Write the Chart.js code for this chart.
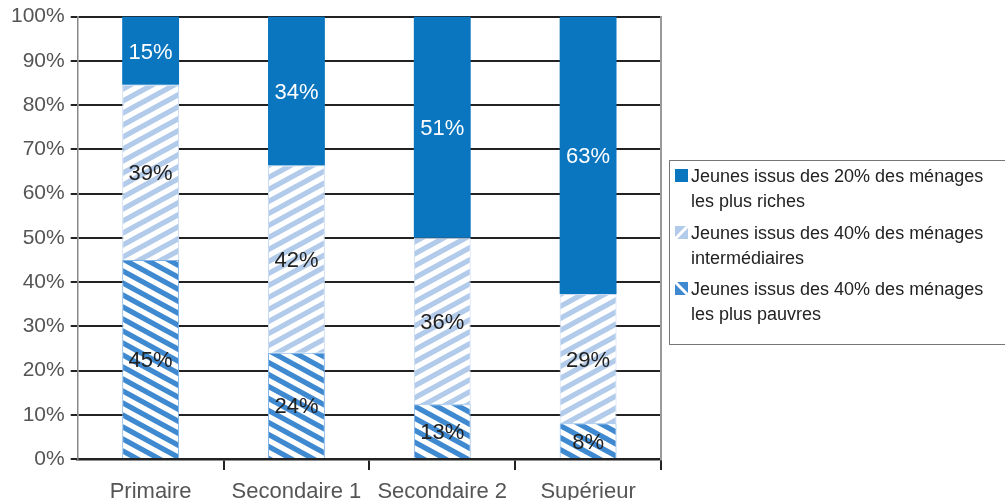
<!DOCTYPE html>
<html>
<head>
<meta charset="utf-8">
<script src="https://cdn.jsdelivr.net/npm/chart.js@4"></script>
<style>
    html, body { margin: 0; padding: 0; background: #fff; }
    #wrap { position: relative; width: 1005px; height: 500px; }
    #legend {
        position: absolute; left: 669px; top: 160px; width: 345px; height: 185px;
        border: 1.5px solid #777; box-sizing: border-box; padding: 3px 0 0 5px;
        font-family: "Liberation Sans", Arial, sans-serif; font-size: 18px; line-height: 25px; color: #222;
    }
    .item { display: flex; align-items: flex-start; margin-bottom: 6.5px; }
    .sw { width: 13px; height: 13px; margin: 5px 3px 0 0; flex: none; }
    .txt { white-space: nowrap; }
</style>
</head>
<body>
<div id="wrap">
    <canvas id="chart" width="1005" height="500"></canvas>
    <div id="legend"></div>
</div>
<script>
// ==========================================================================================================
// -- Data --
// ==========================================================================================================

const categories = ["Primaire", "Secondaire 1", "Secondaire 2", "Supérieur"];

// bar heights (in %)
const poorValues = [45, 24, 12.4, 8.1];
const midValues = [39.6, 42.3, 37.6, 29.2];
const richValues = [15.4, 33.7, 50, 62.7];

// percentages printed inside the bars
const poorLabels = [45, 24, 13, 8];
const midLabels = [39, 42, 36, 29];
const richLabels = [15, 34, 51, 63];

const seriesNames = [
    ["Jeunes issus des 40% des ménages", "les plus pauvres"],
    ["Jeunes issus des 40% des ménages", "intermédiaires"],
    ["Jeunes issus des 20% des ménages", "les plus riches"],
];

const yTicks = [0, 10, 20, 30, 40, 50, 60, 70, 80, 90, 100];

const FONT = '"Liberation Sans", Arial, sans-serif';
const solidBlue = "#0a76c0";
const lightStripe = "#b3cbea";
const darkStripe = "#3f89d0";

// ==========================================================================================================
// -- Helpers --
// ==========================================================================================================

// Hatch pattern -------------------------------------------------------------------------------------
function makeHatch(color, dir) {
    const W = 22, H = 12;
    const c = document.createElement("canvas");
    c.width = W; c.height = H;
    const g = c.getContext("2d");
    g.fillStyle = "#fff";
    g.fillRect(0, 0, W, H);
    g.strokeStyle = color;
    g.lineWidth = 5.2;
    for (let k = -1; k <= 1; k++) {
        g.beginPath();
        if (dir === "/") {
            g.moveTo(-W, 2 * H + k * H);
            g.lineTo(2 * W, -H + k * H);
        } else {
            g.moveTo(-W, -H + k * H);
            g.lineTo(2 * W, 2 * H + k * H);
        }
        g.stroke();
    }
    return g.createPattern(c, "repeat");
}

// Legend swatch: coloured square crossed by one white stripe ------------------------------------------
function drawSwatch(cv, color, dir) {
    const g = cv.getContext("2d");
    g.fillStyle = color;
    g.fillRect(0, 0, 13, 13);
    if (!dir) return;
    g.strokeStyle = "#fff";
    g.lineWidth = 3;
    g.beginPath();
    if (dir === "/") { g.moveTo(-2, 15); g.lineTo(15, -2); }
    else { g.moveTo(-2, -2); g.lineTo(15, 15); }
    g.stroke();
}

const darkHatch = makeHatch(darkStripe, "\\");
const lightHatch = makeHatch(lightStripe, "/");

// Labels inside bars --------------------------------------------------------------------------------
const labelSets = [poorLabels, midLabels, richLabels];
const barLabels = {
    id: "barLabels",
    afterDatasetsDraw(chart) {
        const ctx = chart.ctx;
        ctx.save();
        ctx.font = `22px ${FONT}`;
        ctx.textAlign = "center";
        ctx.textBaseline = "middle";
        chart.data.datasets.forEach((ds, i) => {
            const meta = chart.getDatasetMeta(i);
            meta.data.forEach((bar, j) => {
                ctx.fillStyle = i === 2 ? "#fff" : "#222";
                ctx.fillText(`${labelSets[i][j]}%`, bar.x, (bar.y + bar.base) / 2 + 2);
            });
        });
        ctx.restore();
    }
};

// ==========================================================================================================
// -- Chart --
// ==========================================================================================================

const ctx = document.getElementById("chart").getContext("2d");

new Chart(ctx, {
    type: "bar",
    data: {
        labels: categories,
        datasets: [
            {
                label: seriesNames[0].join(" "),
                data: poorValues,
                backgroundColor: darkHatch,
                borderColor: "#7fb2e6",
                borderWidth: 1,
            },
            {
                label: seriesNames[1].join(" "),
                data: midValues,
                backgroundColor: lightHatch,
                borderColor: "#c9dbf1",
                borderWidth: 1,
            },
            {
                label: seriesNames[2].join(" "),
                data: richValues,
                backgroundColor: solidBlue,
                borderWidth: 0,
            },
        ],
    },
    options: {
        responsive: false,
        animation: false,
        layout: { padding: { left: 5, right: 336, top: 16, bottom: -14 } },
        datasets: { bar: { categoryPercentage: 1, barPercentage: 0.39 } },
        scales: {
            x: {
                stacked: true,
                grid: {
                    drawOnChartArea: false,
                    drawTicks: true,
                    tickLength: 11,
                    lineWidth: 2,
                    color: c => (c.index === 0 ? "rgba(0,0,0,0)" : "#222"),
                },
                border: { color: "#222", width: 2.5 },
                ticks: { color: "#555", padding: 11, font: { family: FONT, size: 22, lineHeight: 1 } },
            },
            y: {
                stacked: true,
                min: 0,
                max: 100,
                afterBuildTicks: axis => { axis.ticks = yTicks.map(v => ({ value: v })); },
                grid: { color: "#222", lineWidth: 2, tickLength: 7 },
                border: { color: "#888", width: 1.5 },
                ticks: { color: "#555", padding: 6, font: { family: FONT, size: 21, lineHeight: 1 }, callback: v => `${v}%` },
            },
            y2: {
                position: "right",
                grid: { display: false },
                ticks: { display: false },
                border: { color: "#999", width: 2 },
            },
        },
        plugins: {
            legend: { display: false },
            tooltip: { enabled: false },
        },
    },
    plugins: [barLabels],
});

// HTML legend (riches first, as in the figure) ---------------------------------------------------------
const legendEl = document.getElementById("legend");
const swatchStyles = [[darkStripe, "\\"], [lightStripe, "/"], [solidBlue, null]];
[2, 1, 0].forEach(i => {
    const item = document.createElement("div");
    item.className = "item";
    const sw = document.createElement("canvas");
    sw.className = "sw";
    sw.width = 13; sw.height = 13;
    drawSwatch(sw, swatchStyles[i][0], swatchStyles[i][1]);
    const txt = document.createElement("div");
    txt.className = "txt";
    txt.innerHTML = seriesNames[i].join("<br>");
    item.appendChild(sw);
    item.appendChild(txt);
    legendEl.appendChild(item);
});
</script>
</body>
</html>
